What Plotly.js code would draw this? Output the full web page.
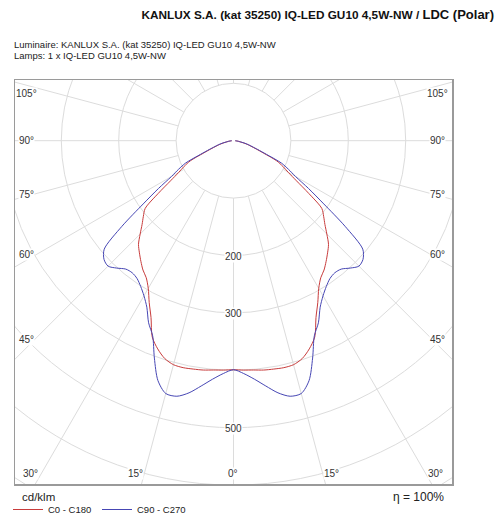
<!DOCTYPE html>
<html><head><meta charset="utf-8">
<script src="https://cdn.plot.ly/plotly-3.0.1.min.js"></script>
<style>html,body{margin:0;padding:0;background:#fff;}#chart{width:500px;height:519px;}</style>
</head><body><div id="chart"></div>
<script>
// gamma angles (degrees from nadir)
const angles = [0,2.5,5,7.5,10,12.5,15,17.5,20,22.5,25,27.5,30,32.5,35,37.5,40,42.5,45,47.5,50,52.5,55,57.5,60,62.5,65,67.5,70,72.5,75,77.5,80,82.5,85,87.5,90];
// luminous intensity, cd/klm
const c0c180 = [399,400,401,403,404,405,404,398,386,370,340,318,297,283,275,265,255,245,230,216,205,194,160,130,110,97,83,57,42,32,25,18,12,9,6,4,3];
const c90c270 = [399,406,417,431,446,456,456,438,403,368,350,327,312,301,293,290,292,301,309,306,294,245,192,155,125,108,92,62,45,34,27,20,13,9,6,4,3];
const seriesNames = ["C0 - C180","C90 - C270"];
const seriesColors = ["#c83c3c","#4646b4"];
const ringValues = [100,200,300,400,500,600,700,800];
const ringLabels = ["200","300","500"];
const ringLabelValues = [200,300,500];
const angleStep = 15;
const sideLabels = ["105°","90°","75°","60°","45°"];
const bottomLabels = ["30°","15°","0°","15°","30°"];

// layout geometry (pixels)
const L = 15, R = 48, T = 80, B = 35, PW = 437, PH = 404;
const CX = 233.5, CY = 140.7, SCALE = 0.574; // px per cd/klm
const xr = [(L - CX)/SCALE, (L + PW - CX)/SCALE];
const yr = [(CY - (T + PH))/SCALE, (CY - T)/SCALE];
const dx = px => (px - CX)/SCALE;
const dy = py => (CY - py)/SCALE;
const paperX = px => (px - L)/PW;
const paperY = py => (T + PH - py)/PH;
const rad = d => d*Math.PI/180;

function curve(vals){
  const xs = [], ys = [];
  for (let i = angles.length-1; i >= 0; i--){ xs.push(-vals[i]*Math.sin(rad(angles[i]))); ys.push(-vals[i]*Math.cos(rad(angles[i]))); }
  for (let i = 1; i < angles.length; i++){ xs.push(vals[i]*Math.sin(rad(angles[i]))); ys.push(-vals[i]*Math.cos(rad(angles[i]))); }
  return {xs, ys};
}

const traces = [c0c180, c90c270].map((v,k)=>{
  const c = curve(v);
  return {type:'scatter', mode:'lines', x:c.xs, y:c.ys, name:seriesNames[k],
    line:{color:seriesColors[k], width:1, shape:'spline', smoothing:0.8}, hoverinfo:'skip'};
});

const gridColor = '#dcdcdc';
const shapes = [];
ringValues.forEach(r=>shapes.push({type:'circle', xref:'x', yref:'y', x0:-r, y0:-r, x1:r, y1:r, line:{color:gridColor, width:1}, layer:'below'}));
for (let a = 0; a < 360; a += angleStep){
  shapes.push({type:'line', xref:'x', yref:'y', x0:100*Math.sin(rad(a)), y0:-100*Math.cos(rad(a)), x1:1500*Math.sin(rad(a)), y1:-1500*Math.cos(rad(a)), line:{color:gridColor, width:1}, layer:'below'});
}

const lblFont = {family:'Liberation Sans, Arial, sans-serif', size:10, color:'#333'};
const annotations = [];
const sideY = [93.3, 140.7, 194, 254.3, 339];
sideLabels.forEach((t,i)=>{
  annotations.push({xref:'x', yref:'y', x:dx(26.7), y:dy(sideY[i]), text:t, showarrow:false, font:lblFont, bgcolor:'#fff', borderpad:0});
  annotations.push({xref:'x', yref:'y', x:dx(437), y:dy(sideY[i]), text:t, showarrow:false, font:lblFont, bgcolor:'#fff', borderpad:0});
});
const bottomX = [30, 135, 233.3, 331, 435];
bottomLabels.forEach((t,i)=>annotations.push({xref:'x', yref:'y', x:dx(bottomX[i]), y:dy(473.3), text:t, showarrow:false, font:lblFont, bgcolor:'#fff', borderpad:0}));
ringLabels.forEach((t,i)=>annotations.push({xref:'x', yref:'y', x:0, y:-ringLabelValues[i]-1.5, text:t, showarrow:false, font:lblFont, bgcolor:'#fff', borderpad:0}));

const txtFont = {family:'Liberation Sans, Arial, sans-serif', size:9.5, color:'#222'};
annotations.push({xref:'paper', yref:'paper', x:paperX(11.5), y:paperY(44.3), xanchor:'left', yanchor:'middle', text:'Luminaire: KANLUX S.A. (kat 35250) IQ-LED GU10 4,5W-NW', showarrow:false, font:txtFont});
annotations.push({xref:'paper', yref:'paper', x:paperX(11.5), y:paperY(55.3), xanchor:'left', yanchor:'middle', text:'Lamps: 1 x IQ-LED GU10 4,5W-NW', showarrow:false, font:txtFont});
annotations.push({xref:'paper', yref:'paper', x:paperX(19.5), y:paperY(497.3), xanchor:'left', yanchor:'middle', text:'cd/klm', showarrow:false, font:{family:'Liberation Sans, Arial, sans-serif', size:11.5, color:'#222'}});
annotations.push({xref:'paper', yref:'paper', x:paperX(445.5), y:paperY(497.3), xanchor:'right', yanchor:'middle', text:'η = 100%', showarrow:false, font:{family:'Liberation Sans, Arial, sans-serif', size:12, color:'#222'}});

const layout = {
  width:500, height:519,
  margin:{l:L, r:R, t:T, b:B, autoexpand:false},
  paper_bgcolor:'#fff', plot_bgcolor:'#fff',
  title:{text:'<b>KANLUX S.A. (kat 35250) IQ-LED GU10 4,5W-NW / <span style="font-size:13px">LDC (Polar)</span></b>', xref:'container', yref:'container', x:0.988, xanchor:'right', y:1-14.5/519, yanchor:'middle', automargin:false, font:{family:'Liberation Sans, Arial, sans-serif', size:11.8, color:'#111'}},
  xaxis:{range:xr, showgrid:false, zeroline:false, showticklabels:false, ticks:'', showline:true, mirror:true, linecolor:'#9a9a9a', linewidth:1.5, fixedrange:true, automargin:false},
  yaxis:{range:yr, showgrid:false, zeroline:false, showticklabels:false, ticks:'', showline:true, mirror:true, linecolor:'#9a9a9a', linewidth:1.5, fixedrange:true, automargin:false},
  shapes, annotations,
  showlegend:true,
  legend:{orientation:'h', x:paperX(8), xanchor:'left', y:paperY(495), yanchor:'top', font:{family:'Liberation Sans, Arial, sans-serif', size:9.5, color:'#222'}, bgcolor:'rgba(0,0,0,0)', entrywidth:44, entrywidthmode:'pixels', itemwidth:30, tracegroupgap:0}
};
Plotly.newPlot('chart', traces, layout, {displayModeBar:false, staticPlot:true});
</script></body></html>
